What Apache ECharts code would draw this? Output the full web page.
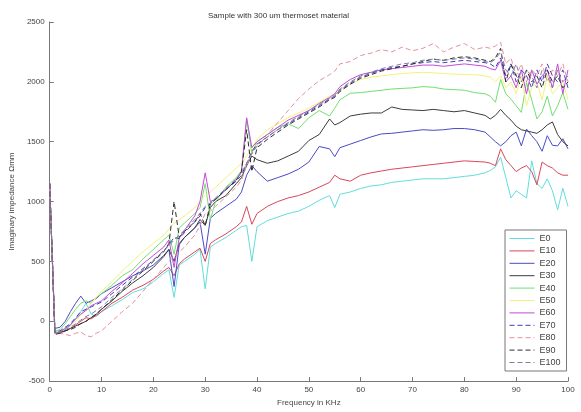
<!DOCTYPE html>
<html>
<head>
<meta charset="utf-8">
<script src="https://cdn.jsdelivr.net/npm/echarts@6/dist/echarts.min.js"></script>
<style>html,body{margin:0;padding:0;background:#fff;}#c{width:581px;height:412px;}</style>
</head>
<body>
<div id="c"></div>
<script>
const titleText = 'Sample with 300 um thermoset material';
const xName = 'Frequency in KHz';
const yName = 'Imaginary impedance \u03A9mm';
const seriesNames = ['E0','E10','E20','E30','E40','E50','E60','E70','E80','E90','E100'];
const freq = [0,1,2,3,4,5,6,7,8,9,10,12,14,16,18,20,22,23,24,25,26,28,29,30,31,32,34,36,37,38,39,40,42,44,46,48,50,52,54,55,56,58,60,62,64,66,68,70,72,74,76,78,80,82,84,85,86,87,88,89,90,91,92,93,94,95,96,97,98,99,100];

const e0 = [1150,-80,-90,-60,-40,20,80,150,60,40,80,130,180,240,270,330,400,430,200,470,500,560,600,270,620,650,700,760,790,800,500,790,840,870,900,920,960,1010,1050,950,1060,1080,1110,1130,1140,1160,1170,1180,1190,1190,1190,1200,1210,1220,1240,1260,1290,1370,1200,1030,1090,1060,1030,1340,1150,1110,1190,1090,930,1110,960];
const e10 = [1150,-90,-100,-80,-60,-30,0,30,20,50,80,150,200,260,300,350,420,450,380,480,520,580,610,500,650,680,730,790,830,960,810,900,960,1000,1030,1050,1080,1120,1160,1220,1190,1170,1220,1240,1255,1270,1280,1290,1300,1310,1320,1330,1340,1335,1330,1320,1300,1440,1350,1300,1250,1280,1300,1250,1140,1330,1300,1280,1240,1220,1220];
const e20 = [1150,-60,-50,0,80,150,210,150,170,190,230,280,330,380,420,470,550,600,290,640,700,780,830,560,860,900,960,1020,1080,1220,1300,1250,1170,1200,1230,1270,1330,1460,1440,1375,1450,1480,1510,1540,1565,1570,1580,1590,1600,1595,1600,1610,1610,1600,1580,1540,1500,1465,1500,1550,1580,1465,1605,1550,1500,1420,1550,1470,1465,1525,1440];
const e30 = [1150,-100,-90,-80,-60,-40,-20,0,30,60,100,170,250,320,380,450,540,600,500,650,700,780,850,800,950,1000,1050,1150,1200,1300,1380,1350,1320,1340,1380,1420,1510,1560,1690,1640,1660,1715,1730,1740,1740,1790,1770,1765,1760,1770,1760,1750,1760,1740,1720,1690,1720,1770,1720,1680,1630,1600,1590,1580,1570,1600,1640,1665,1560,1500,1465];
const e40 = [1150,-80,-70,-20,40,100,150,170,150,200,230,300,380,430,520,600,680,720,560,780,820,900,950,1150,850,1000,1120,1200,1260,1690,1400,1500,1560,1620,1650,1610,1700,1760,1715,1780,1850,1905,1910,1920,1930,1940,1945,1950,1960,1955,1940,1935,1930,1910,1900,1880,1830,2020,1900,1855,1800,1745,1995,1850,1690,1750,1880,1715,1800,1910,1770];
const e50 = [1150,-100,-80,-50,-30,0,50,100,150,200,250,330,420,500,580,650,720,770,820,850,880,950,1000,1050,1080,1120,1200,1280,1320,1380,1450,1520,1600,1650,1700,1740,1780,1830,1880,1900,1930,1980,2020,2040,2050,2060,2070,2075,2080,2075,2070,2065,2060,2060,2050,2040,2000,2050,1950,2000,1900,2050,1800,1950,2000,1850,2050,1900,1950,2000,1850];
const e60 = [1150,-100,-90,-60,-30,20,60,90,130,150,170,250,320,400,480,550,620,680,450,700,760,880,1000,1240,1000,1020,1100,1180,1250,1700,1450,1500,1560,1620,1680,1720,1760,1820,1870,1900,1960,2020,2060,2080,2100,2110,2120,2130,2140,2140,2130,2140,2150,2140,2130,2110,2100,2180,2000,2050,1950,2100,1900,2100,1980,2050,2100,1950,2150,1900,2100];
const e70 = [1150,-90,-80,-50,-20,30,80,100,120,140,160,230,300,370,440,510,590,640,700,690,740,830,880,950,980,1020,1100,1170,1220,1320,1420,1480,1540,1600,1650,1700,1750,1800,1860,1880,1930,1990,2040,2070,2100,2120,2130,2150,2160,2170,2160,2170,2180,2170,2160,2150,2120,2200,2050,2150,2000,2100,2050,1950,2100,2000,2150,2050,2000,2100,1950];
const e80 = [1150,-90,-100,-110,-120,-100,-90,-120,-130,-100,-80,0,80,150,250,350,450,500,540,580,620,720,800,900,920,960,1040,1120,1180,1300,1400,1460,1560,1660,1760,1860,1940,2010,2060,2090,2150,2170,2220,2240,2270,2250,2290,2260,2280,2320,2250,2290,2320,2270,2290,2280,2300,2330,2150,2200,2050,2150,2000,2100,2050,2150,2000,2100,2050,2150,2000];
const e90 = [1150,-110,-100,-80,-70,-50,-20,0,30,60,100,180,260,340,420,500,580,650,1000,700,750,830,900,800,980,1020,1100,1180,1250,1600,1250,1450,1520,1580,1640,1690,1740,1790,1850,1870,1920,1980,2030,2060,2090,2110,2130,2150,2170,2190,2180,2200,2210,2200,2180,2170,2200,2280,2000,2150,2050,1950,2100,2000,2050,1950,2100,2000,2050,1950,2000];
const e100 = [1150,-100,-90,-70,-50,-20,10,40,60,90,120,200,270,350,430,510,590,630,680,720,760,850,900,960,990,1030,1110,1190,1240,1320,1400,1470,1540,1600,1660,1710,1760,1810,1860,1890,1940,2000,2050,2080,2110,2130,2150,2160,2180,2190,2180,2190,2200,2190,2170,2160,2190,2250,2100,2050,2150,2000,2100,2050,1950,2100,2050,1950,2100,2000,2050];

const values = [e0,e10,e20,e30,e40,e50,e60,e70,e80,e90,e100];
const colors = ['#62dcdc','#d8465a','#4a4ac6','#3c3c3c','#72de72','#f2f27a','#c24ad6','#3e3ec0','#e4909c','#2e2e2e','#7e7e9a'];
const dashed = [false,false,false,false,false,false,false,true,true,true,true];

const chart = echarts.init(document.getElementById('c'));
const FONT = 'Liberation Sans';
chart.setOption({
  animation: false,
  backgroundColor: '#fff',
  textStyle: {fontFamily: FONT},
  title: {text: titleText, left: 203, top: 7, textStyle: {fontSize: 8, fontWeight: 'normal', color: '#333', fontFamily: FONT}},
  grid: {left: 46, right: 13, top: 22, bottom: 26, containLabel: false},
  legend: {
    orient: 'vertical', left: 505, top: 230, width: 62,
    data: seriesNames,
    itemWidth: 25, itemHeight: 8, itemGap: 3.4,
    padding: [4, 6, 4, 4],
    borderColor: '#777', borderWidth: 1, backgroundColor: '#fff',
    itemStyle: {opacity: 0},
    lineStyle: {width: 1},
    textStyle: {fontSize: 9, color: '#444', fontFamily: FONT}
  },
  xAxis: {
    type: 'value', min: 0, max: 100, interval: 10,
    name: xName, nameLocation: 'middle', nameGap: 14,
    nameTextStyle: {fontSize: 8, color: '#444'},
    axisLine: {show: true, onZero: false, lineStyle: {color: '#777'}},
    axisTick: {show: true, inside: true, length: 4, lineStyle: {color: '#777'}},
    axisLabel: {fontSize: 8, color: '#444', margin: 5, formatter: v => String(v)},
    splitLine: {show: false}
  },
  yAxis: {
    type: 'value', min: -500, max: 2500, interval: 500,
    name: yName, nameLocation: 'middle', nameGap: 31,
    nameTextStyle: {fontSize: 8, color: '#444'},
    axisLine: {show: true, onZero: false, lineStyle: {color: '#777'}},
    axisTick: {show: true, inside: true, length: 4, lineStyle: {color: '#777'}},
    axisLabel: {fontSize: 8, color: '#444', margin: 5, formatter: v => String(v)},
    splitLine: {show: false}
  },
  series: seriesNames.map((n, i) => ({
    name: n, type: 'line', symbol: 'none', showSymbol: false,
    data: freq.map((f, j) => [f, values[i][j]]),
    lineStyle: {width: 1, color: colors[i], type: dashed[i] ? [5, 3] : 'solid'},
    itemStyle: {color: colors[i]},
    z: 2 + (dashed[i] ? 1 : 0)
  }))
});
</script>
</body>
</html>
